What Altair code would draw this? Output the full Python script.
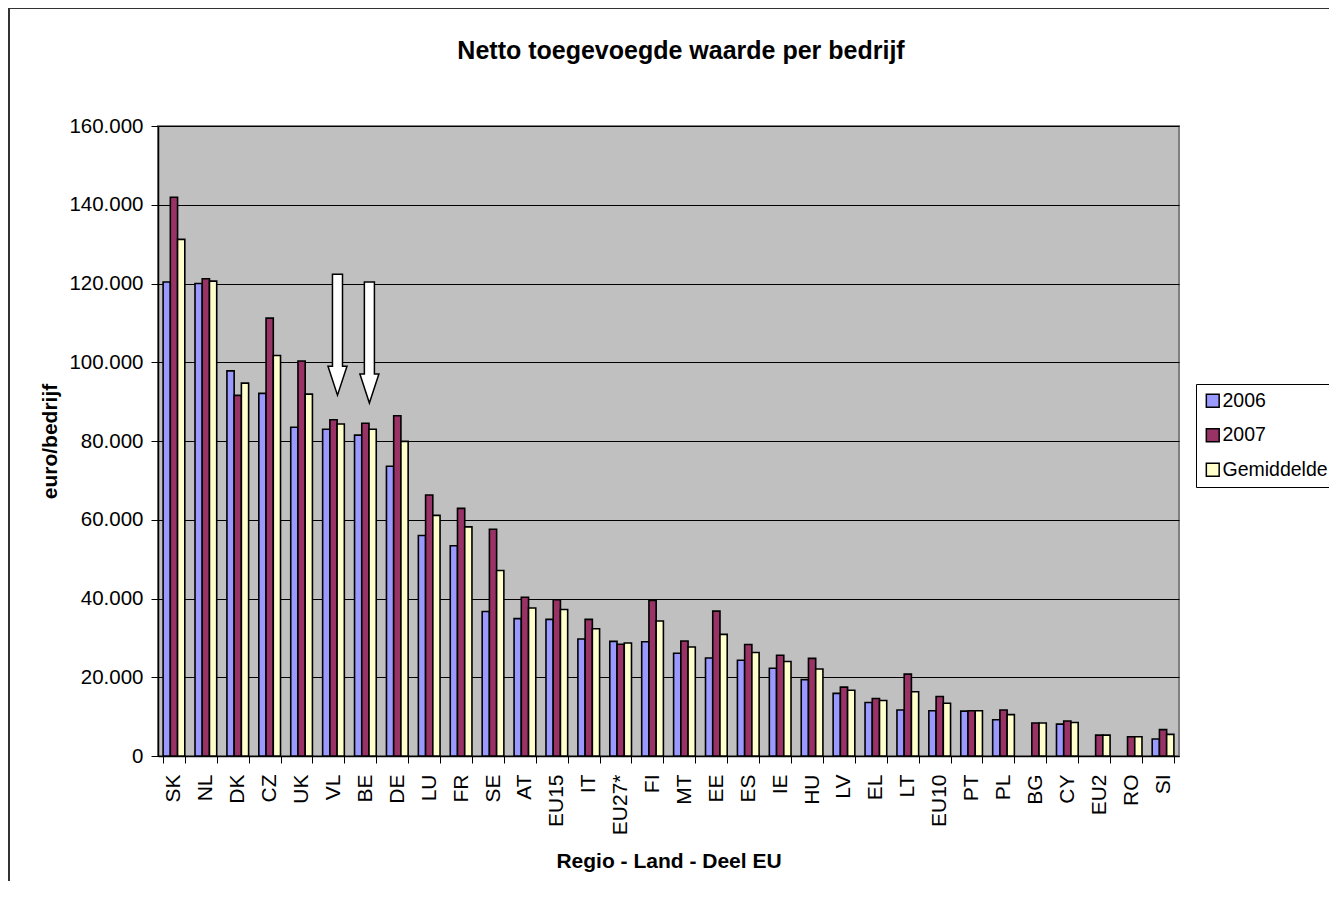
import altair as alt
import pandas as pd

FONT = "Liberation Sans, Arial, sans-serif"

categories = ["SK", "NL", "DK", "CZ", "UK", "VL", "BE", "DE", "LU", "FR", "SE", "AT",
              "EU15", "IT", "EU27*", "FI", "MT", "EE", "ES", "IE", "HU", "LV", "EL",
              "LT", "EU10", "PT", "PL", "BG", "CY", "EU2", "RO", "SI"]
series = ["2006", "2007", "Gemiddelde"]
colors = ["#9999FF", "#993366", "#FFFFCC"]

v2006 = [120400, 120000, 97800, 92100, 83500, 83000, 81500, 73600, 56000, 53400, 36700, 34900,
         34700, 29700, 29100, 29000, 26100, 24900, 24300, 22300, 19400, 15900, 13600,
         11700, 11500, 11400, 9200, None, 8100, None, None, 4300]
v2007 = [141900, 121200, 91600, 111200, 100300, 85400, 84500, 86400, 66300, 62900, 57600, 40300,
         39700, 34700, 28400, 39500, 29200, 36800, 28300, 25600, 24800, 17500, 14600,
         20800, 15100, 11500, 11700, 8400, 8900, 5300, 4900, 6700]
vavg = [131200, 120600, 94700, 101700, 91900, 84300, 83000, 79900, 61100, 58200, 47100, 37600,
        37200, 32300, 28700, 34300, 27700, 30900, 26300, 24000, 22100, 16700, 14100,
        16300, 13400, 11500, 10500, 8400, 8500, 5300, 4900, 5500]

y_ticks = [0, 20000, 40000, 60000, 80000, 100000, 120000, 140000, 160000]

# arrows pointing at VL and BE (category, middle value of the arrow)
arrow_cats = ["VL", "BE"]
arrow_mid = [107000, 105000]

title_text = "Netto toegevoegde waarde per bedrijf"

rows = []
for s, vals in zip(series, [v2006, v2007, vavg]):
    for c, v in zip(categories, vals):
        if v is not None:
            rows.append({"cat": c, "series": s, "value": v})
df = pd.DataFrame(rows)
arrows = pd.DataFrame({"cat": arrow_cats, "value": arrow_mid})
one = pd.DataFrame({"k": [0]})

arrow_path = ("M -0.083 -1 L 0.083 -1 L 0.083 0.52 L 0.157 0.52 L 0 1 "
              "L -0.157 0.52 L -0.083 0.52 Z")

x_enc = alt.X("cat:N", sort=categories,
              scale=alt.Scale(domain=categories, paddingInner=0.32, paddingOuter=0.16),
              axis=alt.Axis(labelAngle=270, labelFontSize=21, labelFont=FONT,
                            labelColor="black", tickBand="extent", tickSize=7,
                            tickColor="black", domainColor="black", domainWidth=1.5,
                            labelPadding=11, grid=False, titleFontSize=21,
                            titleFont=FONT, titleFontWeight="bold", titleColor="black",
                            titlePadding=16),
              title="Regio - Land - Deel EU")

y_enc = alt.Y("value:Q", scale=alt.Scale(domain=[0, 160000], nice=False),
              axis=alt.Axis(values=y_ticks,
                            labelExpr="replace(format(datum.value, ','), ',', '.')",
                            labelFontSize=20.5, labelFont=FONT, labelColor="black",
                            tickSize=7, tickColor="black", domainColor="black",
                            domainWidth=1.5, labelPadding=8, grid=True,
                            gridColor="#000000", gridWidth=1,
                            titleFontSize=21, titleFont=FONT, titleFontWeight="bold",
                            titleColor="black", titlePadding=8),
              title="euro/bedrijf")

frame = alt.Chart(one).mark_rect(fillOpacity=0, stroke="#333333", strokeWidth=2).encode(
    x=alt.value(-149), x2=alt.value(1400), y=alt.value(-118), y2=alt.value(1000)
)

bars = alt.Chart(df).mark_bar(stroke="black", strokeWidth=1.6).encode(
    x=x_enc,
    xOffset=alt.XOffset("series:N", scale=alt.Scale(domain=series, paddingInner=0, paddingOuter=0)),
    y=y_enc,
    color=alt.Color("series:N",
                    scale=alt.Scale(domain=series, range=colors),
                    legend=alt.Legend(title=None, orient="none", legendX=1038, legendY=258,
                                      symbolType="square", symbolSize=165,
                                      symbolStrokeColor="black", symbolStrokeWidth=1.5,
                                      labelFontSize=19.5, labelFont=FONT, labelColor="black",
                                      rowPadding=13.5, padding=7, labelOffset=0,
                                      strokeColor="black", fillColor="white")),
)

arrow_layer = alt.Chart(arrows).mark_point(
    shape=arrow_path, size=14641, filled=True, fill="white", stroke="black",
    strokeWidth=1.5, opacity=1, xOffset=4
).encode(
    x=alt.X("cat:N", sort=categories),
    y=alt.Y("value:Q"),
)

title = alt.Chart(one).mark_text(
    text=title_text, font=FONT, fontSize=25, fontWeight="bold", color="black",
    align="center", baseline="alphabetic"
).encode(x=alt.value(523), y=alt.value(-67))

chart = alt.layer(frame, bars, arrow_layer, title).properties(
    width=1021, height=630,
    autosize=alt.AutoSizeParams(type="none"),
    padding={"left": 150, "top": 118, "right": 150, "bottom": 125},
    background="white",
).configure_view(
    fill="#C0C0C0", stroke="#808080", strokeWidth=2
)

chart.save("out.html", embed_options={"renderer": "svg", "actions": False})
